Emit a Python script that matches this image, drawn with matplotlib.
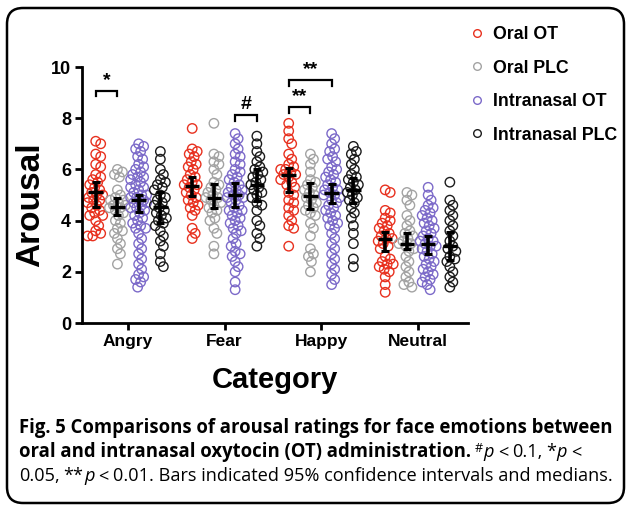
import matplotlib
matplotlib.use('Agg')
import matplotlib.pyplot as plt
import numpy as np
from matplotlib.lines import Line2D
from matplotlib.patches import FancyBboxPatch
import matplotlib.transforms as mtransforms

W, H = 626, 505

categories = ['Angry', 'Fear', 'Happy', 'Neutral']
groups = ['Oral OT', 'Oral PLC', 'Intranasal OT', 'Intranasal PLC']
colors = ['#e8311f', '#a3a3a3', '#7c6ac9', '#1c1c1c']

# ---- individual ratings ----
angry_oral_ot = [7.1, 7.0, 6.6, 6.5, 6.2, 6.1, 5.8, 5.7, 5.6, 5.5, 5.4, 5.3, 5.2, 5.1, 5.0, 5.0,
                 4.9, 4.8, 4.8, 4.7, 4.6, 4.5, 4.4, 4.3, 4.2, 4.2, 4.0, 3.8, 3.6, 3.5, 3.4, 3.4]
angry_oral_plc = [6.0, 5.9, 5.8, 5.7, 5.2, 5.0, 4.9, 4.8, 4.8, 4.7, 4.6, 4.6, 4.5, 4.5, 4.4, 4.3,
                  4.2, 4.0, 3.9, 3.7, 3.6, 3.5, 3.3, 3.1, 2.9, 2.7, 2.3]
angry_in_ot = [7.0, 6.9, 6.8, 6.7, 6.5, 6.4, 6.2, 6.1, 6.0, 5.9, 5.8, 5.7, 5.7, 5.6, 5.5, 5.4, 5.3,
               5.3, 5.2, 5.1, 5.0, 5.0, 4.9, 4.9, 4.8, 4.8, 4.7, 4.7, 4.6, 4.5, 4.5, 4.4, 4.3, 4.2,
               4.1, 4.0, 3.9, 3.8, 3.7, 3.7, 3.5, 3.3, 3.1, 2.9, 2.7, 2.5, 2.3, 2.1, 1.9, 1.8, 1.7,
               1.6, 1.4]
angry_in_plc = [6.7, 6.4, 6.0, 5.8, 5.6, 5.5, 5.4, 5.3, 5.2, 5.0, 4.9, 4.8, 4.7, 4.6, 4.5, 4.4,
                4.3, 4.2, 4.1, 4.0, 3.9, 3.8, 3.6, 3.4, 3.2, 3.0, 2.7, 2.4, 2.2]

fear_oral_ot = [7.6, 6.8, 6.7, 6.6, 6.5, 6.3, 6.2, 6.1, 6.0, 5.8, 5.7, 5.6, 5.5, 5.4, 5.4, 5.3,
                5.2, 5.1, 5.0, 4.9, 4.8, 4.7, 4.6, 4.5, 4.4, 4.2, 3.7, 3.5, 3.3]
fear_oral_plc = [7.8, 6.6, 6.5, 6.3, 6.2, 6.0, 5.8, 5.5, 5.4, 5.3, 5.2, 5.1, 5.0, 4.9, 4.9, 4.8,
                 4.7, 4.6, 4.5, 4.4, 4.3, 4.1, 4.0, 3.7, 3.5, 3.0, 2.7]
fear_in_ot = [7.4, 7.2, 7.0, 6.8, 6.6, 6.5, 6.3, 6.2, 6.0, 5.9, 5.8, 5.7, 5.6, 5.5, 5.4, 5.3, 5.2,
              5.2, 5.1, 5.0, 5.0, 4.9, 4.9, 4.8, 4.7, 4.6, 4.5, 4.4, 4.4, 4.3, 4.2, 4.1, 4.0, 3.9,
              3.8, 3.7, 3.6, 3.5, 3.3, 3.1, 3.0, 2.8, 2.7, 2.6, 2.4, 2.2, 2.0, 1.6, 1.3]
fear_in_plc = [7.3, 7.0, 6.7, 6.5, 6.3, 6.1, 6.0, 5.9, 5.8, 5.7, 5.6, 5.5, 5.4, 5.3, 5.2, 5.1,
               5.0, 4.9, 4.7, 4.6, 4.4, 4.0, 3.8, 3.5, 3.3, 3.0]

happy_oral_ot = [7.8, 7.5, 7.2, 7.0, 6.6, 6.4, 6.2, 6.1, 6.0, 6.0, 5.9, 5.8, 5.8, 5.7, 5.6, 5.5,
                 5.4, 5.3, 5.1, 5.0, 4.8, 4.7, 4.5, 4.4, 4.2, 4.0, 3.8, 3.7, 3.0]
happy_oral_plc = [6.6, 6.4, 6.2, 5.9, 5.6, 5.5, 5.4, 5.3, 5.2, 5.1, 5.0, 4.9, 4.8, 4.7, 4.6, 4.5,
                  4.4, 4.3, 4.2, 3.9, 3.7, 3.4, 2.9, 2.7, 2.6, 2.4, 2.0]
happy_in_ot = [7.4, 7.2, 7.0, 6.8, 6.7, 6.5, 6.4, 6.3, 6.1, 6.0, 5.9, 5.8, 5.7, 5.6, 5.5, 5.4,
               5.3, 5.2, 5.2, 5.1, 5.0, 5.0, 4.9, 4.8, 4.7, 4.6, 4.5, 4.4, 4.3, 4.2, 4.1, 4.0,
               3.9, 3.8, 3.7, 3.5, 3.3, 3.1, 2.9, 2.7, 2.5, 2.3, 2.1, 1.9, 1.7, 1.5]
happy_in_plc = [6.9, 6.7, 6.6, 6.4, 6.2, 6.0, 5.8, 5.7, 5.6, 5.5, 5.4, 5.3, 5.2, 5.1, 5.0, 4.9,
                4.8, 4.7, 4.5, 4.3, 4.1, 3.8, 3.5, 3.1, 2.5, 2.2]

neutral_oral_ot = [5.2, 5.1, 4.4, 4.3, 4.1, 4.0, 3.9, 3.8, 3.7, 3.6, 3.5, 3.4, 3.3, 3.3, 3.2, 3.1,
                   3.0, 2.9, 2.6, 2.5, 2.4, 2.3, 2.3, 2.2, 2.1, 2.0, 1.8, 1.5, 1.2]
neutral_oral_plc = [5.1, 5.0, 4.8, 4.6, 4.2, 4.0, 3.8, 3.6, 3.5, 3.4, 3.3, 3.2, 3.1, 3.1, 3.0,
                    2.9, 2.8, 2.6, 2.4, 2.2, 2.0, 1.8, 1.6, 1.5, 1.4]
neutral_in_ot = [5.3, 5.0, 4.8, 4.6, 4.5, 4.4, 4.3, 4.2, 4.1, 4.0, 3.9, 3.8, 3.7, 3.6, 3.5, 3.4,
                 3.3, 3.2, 3.2, 3.1, 3.0, 3.0, 2.9, 2.8, 2.7, 2.6, 2.5, 2.4, 2.3, 2.2, 2.1, 2.0,
                 1.9, 1.8, 1.7, 1.6, 1.5, 1.3]
neutral_in_plc = [5.5, 4.8, 4.6, 4.4, 4.2, 4.0, 3.8, 3.6, 3.4, 3.2, 3.0, 2.9, 2.8, 2.6, 2.5, 2.4,
                  2.2, 2.0, 1.8, 1.6, 1.4]

data = [
    [angry_oral_ot, angry_oral_plc, angry_in_ot, angry_in_plc],
    [fear_oral_ot, fear_oral_plc, fear_in_ot, fear_in_plc],
    [happy_oral_ot, happy_oral_plc, happy_in_ot, happy_in_plc],
    [neutral_oral_ot, neutral_oral_plc, neutral_in_ot, neutral_in_plc],
]

# ---- medians and 95% CI ----
medians = [[5.1, 4.55, 4.8, 4.55], [5.35, 4.9, 5.0, 5.4], [5.8, 4.95, 5.07, 5.2], [3.28, 3.09, 3.09, 3.0]]
ci_low = [[4.55, 4.22, 4.35, 3.9], [4.95, 4.48, 4.55, 4.78], [5.13, 4.45, 4.68, 4.68], [2.8, 2.9, 2.7, 2.46]]
ci_high = [[5.5, 4.87, 5.0, 5.13], [5.7, 5.43, 5.46, 6.0], [6.05, 5.45, 5.43, 5.65], [3.57, 3.53, 3.4, 3.57]]

yticks = [0, 2, 4, 6, 8, 10]

# significance annotations: (category index, group a, group b, y, label)
sig = [(0, 0, 1, 9.07, '*'), (1, 2, 3, 8.12, '#'), (2, 0, 1, 8.42, '**'), (2, 0, 2, 9.48, '**')]

offsets = [-0.335, -0.11, 0.11, 0.335]

# ---- figure ----
fig = plt.figure(figsize=(W / 100, H / 100), dpi=100)
ax_l, ax_r, ax_top, ax_bot = 82, 468, 67, 323
ax = fig.add_axes([ax_l / W, 1 - ax_bot / H, (ax_r - ax_l) / W, (ax_bot - ax_top) / H])
xlim = (0.523, 4.523)
ax.set_xlim(*xlim)
ax.set_ylim(0, 10)
px_x = (ax_r - ax_l) / (xlim[1] - xlim[0])
px_y = (ax_bot - ax_top) / 10.0


def swarm_offsets(vals, d=5.5, maxw=8):
    vals = np.asarray(vals, float)
    order = np.argsort(-vals, kind='stable')
    placed = []
    offs = np.zeros(len(vals))
    cands = [0]
    for k in range(1, maxw + 1):
        cands += [k, -k]
    for i in order:
        y = vals[i] * px_y
        best, bestd = 0, -1
        for c in cands:
            md = min([np.hypot(c - px, y - py) for px, py in placed], default=1e9)
            if md >= d:
                best = c
                break
            if md > bestd:
                bestd, best = md, c
        offs[i] = best
        placed.append((best, y))
    return offs / px_x


for ci, cat in enumerate(categories):
    for gi in range(4):
        vals = data[ci][gi]
        xc = ci + 1 + offsets[gi]
        xs = xc + swarm_offsets(vals)
        ax.scatter(xs, vals, s=46, facecolors='none', edgecolors=colors[gi], linewidths=1.0,
                   zorder=2, clip_on=False)
        ax.errorbar([xc], [medians[ci][gi]],
                    yerr=[[medians[ci][gi] - ci_low[ci][gi]], [ci_high[ci][gi] - medians[ci][gi]]],
                    fmt='none', ecolor='black', elinewidth=2.6, capsize=3.2, capthick=2.2, zorder=4)
        ax.hlines(medians[ci][gi], xc - 0.075, xc + 0.075, color='black', lw=2.4, zorder=4)

for ci, ga, gb, y, lab in sig:
    xa = ci + 1 + offsets[ga]
    xb = ci + 1 + offsets[gb]
    leg = 0.22
    ax.plot([xa, xa, xb, xb], [y - leg, y, y, y - leg], color='black', lw=1.6,
            solid_joinstyle='miter', clip_on=False)
    ax.text((xa + xb) / 2, y + 0.08, lab, ha='center', va='bottom', fontsize=14,
            fontweight='bold', family='Liberation Sans')

for s in ['top', 'right']:
    ax.spines[s].set_visible(False)
for s in ['left', 'bottom']:
    ax.spines[s].set_linewidth(2.0)

ax.set_xticks(range(1, 5))
ax.set_xticklabels(categories)
ax.set_yticks(yticks)
ax.set_yticklabels([str(t) for t in yticks])
ax.tick_params(axis='both', direction='out', length=5, width=2.0, pad=3)
for lab in ax.get_xticklabels():
    lab.set_fontsize(12.5)
    lab.set_fontweight('bold')
    lab.set_family('Liberation Sans')
for lab in ax.get_yticklabels():
    lab.set_fontsize(13)
    lab.set_fontweight('bold')
    lab.set_family('Liberation Sans')

fig.text(31 / W, 1 - 205 / H, 'Arousal', rotation=90, ha='center', va='center',
         fontsize=24, fontweight='bold', family='Liberation Sans')
fig.text(275 / W, 1 - 380 / H, 'Category', ha='center', va='center',
         fontsize=21, fontweight='bold', family='Liberation Sans')

handles = [Line2D([], [], ls='none', marker='o', ms=5.5, mfc='none', mec=c, mew=1.0) for c in colors]
fig.legend(handles, groups, loc='upper left', bbox_to_anchor=(452 / W, 1 - 10 / H),
           frameon=False, handlelength=1.0, handletextpad=0.4, labelspacing=0.93,
           prop={'family': 'Liberation Sans', 'weight': 'bold', 'size': 12.8})

# border
border = FancyBboxPatch((7, 2), 617, 495, boxstyle='round,pad=0,rounding_size=16',
                        transform=mtransforms.IdentityTransform(), fill=False,
                        edgecolor='black', lw=1.8)
fig.patches.append(border)

# ---- caption ----
fig.canvas.draw()
rend = fig.canvas.get_renderer()


def draw_pieces(pieces, x, y_base, size, draw=True):
    total = 0
    arts = []
    for txt, kw in pieces:
        kw = dict(kw)
        sc = kw.pop('scale', 1.0)
        dy = kw.pop('dy', 0)
        gap = kw.pop('gap', 0)
        x += gap * size
        total += gap * size
        t = fig.text(x / W, 1 - (y_base - dy) / H, txt, fontsize=size * sc, va='baseline', ha='left', **kw)
        bb = t.get_window_extent(renderer=rend)
        x += bb.width
        total += bb.width
        arts.append(t)
    if not draw:
        for a in arts:
            a.remove()
    return total


B = {'family': 'Open Sans', 'fontweight': 'bold'}
R = {'family': 'Open Sans'}
RI = {'family': 'Open Sans', 'style': 'italic'}
line1 = [('Fig. 5 Comparisons of arousal ratings for face emotions between', B)]
line3 = [('0.05,', R), ('**', dict(R, gap=0.3)), ('p', dict(RI, gap=0.02)), ('<', dict(R, gap=0.3)),
         ('0.01. Bars indicated 95% confidence intervals and medians.', dict(R, gap=0.3))]

w1 = draw_pieces(line1, 19, 433, 10, draw=False)
sb = 10 * 593 / w1
w3 = draw_pieces(line3, 19, 481, 10, draw=False)
sr = 10 * 593 / w3

draw_pieces(line1, 19, 433, sb)
line2 = [('oral and intranasal oxytocin (OT) administration.', dict(B, gap=0)),
         ('#', dict(R, scale=0.7, dy=5, gap=0.3 * sb / sr)), ('p', dict(RI, gap=0.02)),
         ('<', dict(R, gap=0.3)), ('0.1,', dict(R, gap=0.3)), ('*', dict(R, gap=0.3)),
         ('p', dict(RI, gap=0.02)), ('<', dict(R, gap=0.3))]
xcur = 19
xcur += draw_pieces(line2[:1], xcur, 457, sb)
draw_pieces(line2[1:], xcur, 457, sr)
draw_pieces(line3, 19, 481, sr)

fig.savefig('out.png', dpi=100)
